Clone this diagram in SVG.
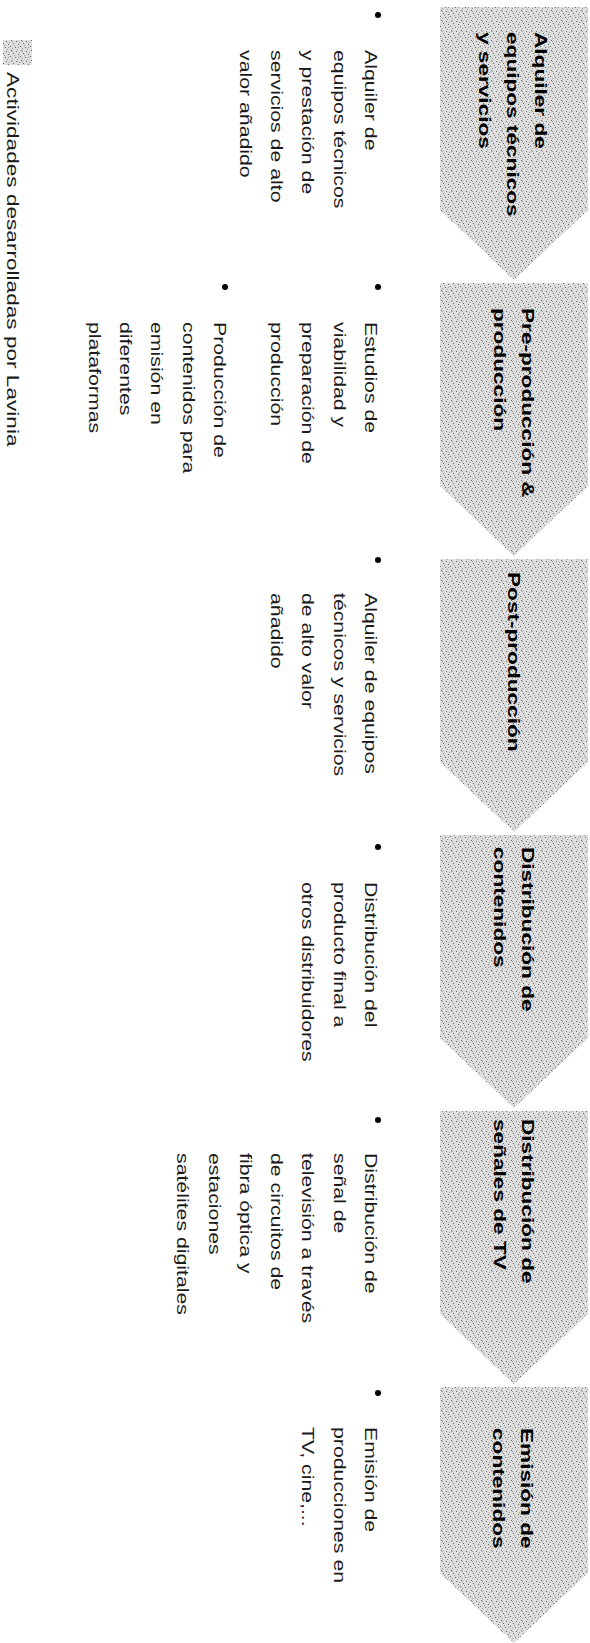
<svg xmlns="http://www.w3.org/2000/svg" width="590" height="1643" viewBox="0 0 590 1643">
<defs>
<pattern id="stip" width="10" height="10" patternUnits="userSpaceOnUse">
<rect width="10" height="10" fill="#dedede"/>
<g fill="#666">
<rect x="1" y="0" width="1" height="1"/><rect x="6" y="1" width="1" height="1"/><rect x="3" y="3" width="1" height="1"/>
<rect x="8" y="4" width="1" height="1"/><rect x="0" y="6" width="1" height="1"/><rect x="5" y="7" width="1" height="1"/>
</g>
<g fill="#999">
<rect x="9" y="2" width="1" height="1"/><rect x="2" y="8" width="1" height="1"/><rect x="7" y="9" width="1" height="1"/>
<rect x="4" y="5" width="1" height="1"/><rect x="8" y="7" width="1" height="1"/><rect x="2" y="1" width="1" height="1"/>
</g>
</pattern>
<style>
.shape{fill:url(#stip);stroke:none}
.title{font-family:"Liberation Sans",Arial,sans-serif;font-weight:bold;font-size:17px;fill:#000}
.body{font-family:"Liberation Sans",Arial,sans-serif;font-size:16px;fill:#1a1a1a}
.legend{font-family:"Liberation Sans",Arial,sans-serif;font-size:17px;fill:#1a1a1a}
.bullet{fill:#000}
</style>
</defs>
<rect width="590" height="1643" fill="#fff"/>

<g id="step1">
<polygon class="shape" points="440,7 588,7 588,210 514,280 440,210"/>
<g class="title" transform="translate(535,32) rotate(90) scale(1.33,1)">
<text y="0">Alquiler de</text><text y="28">equipos técnicos</text><text y="56">y servicios</text>
</g>
<circle class="bullet" cx="378" cy="15" r="3"/>
<g class="body" transform="translate(365,50) rotate(90) scale(1.33,1)">
<text y="0">Alquiler de</text><text y="31.3">equipos técnicos</text><text y="62.6">y prestación de</text><text y="93.9">servicios de alto</text><text y="125.2">valor añadido</text>
</g>
</g>

<g id="step2">
<polygon class="shape" points="440,283 588,283 588,486 514,556 440,486"/>
<g class="title" transform="translate(521.5,308) rotate(90) scale(1.33,1)">
<text y="0">Pre-producción &amp;</text><text y="28">producción</text>
</g>
<circle class="bullet" cx="378" cy="287" r="3"/>
<g class="body" transform="translate(365,322) rotate(90) scale(1.33,1)">
<text y="0">Estudios de</text><text y="31.3">viabilidad y</text><text y="62.6">preparación de</text><text y="93.9">producción</text>
</g>
<circle class="bullet" cx="225" cy="287" r="3"/>
<g class="body" transform="translate(214,322) rotate(90) scale(1.33,1)">
<text y="0">Producción de</text><text y="31.3">contenidos para</text><text y="62.6">emisión en</text><text y="93.9">diferentes</text><text y="125.2">plataformas</text>
</g>
</g>

<g id="step3">
<polygon class="shape" points="440,559 588,559 588,762 514,832 440,762"/>
<g class="title" transform="translate(508,572) rotate(90) scale(1.33,1)">
<text y="0">Post-producción</text>
</g>
<circle class="bullet" cx="378" cy="560" r="3"/>
<g class="body" transform="translate(365,593) rotate(90) scale(1.33,1)">
<text y="0">Alquiler de equipos</text><text y="31.3">técnicos y servicios</text><text y="62.6">de alto valor</text><text y="93.9">añadido</text>
</g>
</g>

<g id="step4">
<polygon class="shape" points="440,835 588,835 588,1038 514,1108 440,1038"/>
<g class="title" transform="translate(521.5,847) rotate(90) scale(1.33,1)">
<text y="0">Distribución de</text><text y="28">contenidos</text>
</g>
<circle class="bullet" cx="378" cy="847" r="3"/>
<g class="body" transform="translate(365,882) rotate(90) scale(1.33,1)">
<text y="0">Distribución del</text><text y="31.3">producto final a</text><text y="62.6">otros distribuidores</text>
</g>
</g>

<g id="step5">
<polygon class="shape" points="440,1111 588,1111 588,1314 514,1384 440,1314"/>
<g class="title" transform="translate(521.5,1119) rotate(90) scale(1.33,1)">
<text y="0">Distribución de</text><text y="28">señales de TV</text>
</g>
<circle class="bullet" cx="378" cy="1120" r="3"/>
<g class="body" transform="translate(365,1153) rotate(90) scale(1.33,1)">
<text y="0">Distribución de</text><text y="31.3">señal de</text><text y="62.6">televisión a través</text><text y="93.9">de circuitos de</text><text y="125.2">fibra óptica y</text><text y="156.5">estaciones</text><text y="187.8">satélites digitales</text>
</g>
</g>

<g id="step6">
<polygon class="shape" points="440,1387 588,1387 588,1573 514,1643 440,1573"/>
<g class="title" transform="translate(521,1428) rotate(90) scale(1.33,1)">
<text y="0">Emisión de</text><text y="28">contenidos</text>
</g>
<circle class="bullet" cx="378" cy="1393" r="3"/>
<g class="body" transform="translate(365,1427) rotate(90) scale(1.33,1)">
<text y="0">Emisión de</text><text y="31.3">producciones en</text><text y="62.6">TV, cine,...</text>
</g>
</g>

<g id="legend">
<rect class="shape" x="3" y="40" width="29" height="25"/>
<g class="legend" transform="translate(6.5,72) rotate(90) scale(1.33,1)">
<text y="0">Actividades desarrolladas por Lavinia</text>
</g>
</g>

<g id="connectors"></g>
</svg>
